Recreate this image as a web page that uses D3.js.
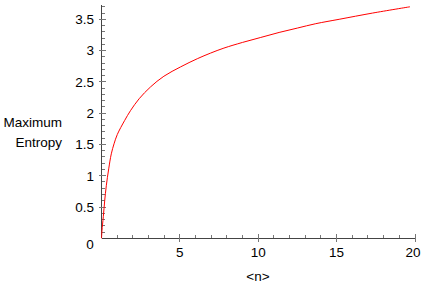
<!DOCTYPE html>
<html>
<head>
<meta charset="utf-8">
<script src="https://cdn.jsdelivr.net/npm/d3@7"></script>
<style>
  html, body { margin: 0; padding: 0; background: #fff; }
  svg { display: block; }
  text { font-family: "Liberation Sans", Arial, Helvetica, sans-serif; fill: #000; }
</style>
</head>
<body>
<svg id="chart" width="421" height="284"></svg>
<script>
// Data
const nValues = [0, 0.03, 0.115, 0.204, 0.306, 0.46, 0.625, 0.8, 1.01, 1.47, 1.85, 2.4, 3.13, 3.98, 5.05, 6.11, 6.96, 7.81, 8.99, 10.16, 11.33, 12.5, 13.67, 15.16, 17.3, 19.68];
const entropyValues = [0, 0.12, 0.345, 0.60, 0.84, 1.11, 1.35, 1.51, 1.66, 1.88, 2.04, 2.23, 2.42, 2.59, 2.74, 2.87, 2.96, 3.04, 3.13, 3.21, 3.29, 3.36, 3.43, 3.50, 3.60, 3.70];
const xTickValues = [5, 10, 15, 20];
const yTickValues = [0.5, 1, 1.5, 2, 2.5, 3, 3.5];
const xLabel = "<n>";
const yLabelLines = ["Maximum", "Entropy"];
const originLabel = "0";

const svg = d3.select("#chart");
const x = d3.scaleLinear().domain([0, 20]).range([101.5, 415]);
const y = d3.scaleLinear().domain([0, 3.5]).range([238.3, 19.3]);
const yTop = y.invert(5);

const axisColor = "#444";
const tickColor = "#777";

// y axis line
svg.append("line").attr("x1", x(0)).attr("x2", x(0)).attr("y1", y(0)).attr("y2", y(yTop))
  .attr("stroke", axisColor).attr("stroke-width", 1).attr("shape-rendering", "crispEdges");
// x axis line
svg.append("line").attr("x1", x(0)).attr("x2", x(20)).attr("y1", y(0)).attr("y2", y(0))
  .attr("stroke", axisColor).attr("stroke-width", 1).attr("shape-rendering", "crispEdges");

// minor ticks
const yMinor = d3.range(0.1, yTop, 0.1).filter(v => Math.abs(v * 2 - Math.round(v * 2)) > 1e-6);
svg.selectAll(".ymin").data(yMinor).enter().append("line")
  .attr("x1", x(0)).attr("x2", x(0) + 3).attr("y1", d => y(d)).attr("y2", d => y(d))
  .attr("stroke", tickColor).attr("shape-rendering", "crispEdges");
const xMinor = d3.range(1, 20, 1).filter(v => v % 5 !== 0);
svg.selectAll(".xmin").data(xMinor).enter().append("line")
  .attr("x1", d => x(d)).attr("x2", d => x(d)).attr("y1", y(0)).attr("y2", y(0) - 3)
  .attr("stroke", tickColor).attr("shape-rendering", "crispEdges");

// major ticks
svg.selectAll(".ymaj").data(yTickValues).enter().append("line")
  .attr("x1", x(0) - 3).attr("x2", x(0) + 4).attr("y1", d => y(d)).attr("y2", d => y(d))
  .attr("stroke", tickColor).attr("shape-rendering", "crispEdges");
svg.selectAll(".xmaj").data(xTickValues).enter().append("line")
  .attr("x1", d => x(d)).attr("x2", d => x(d)).attr("y1", y(0) - 4).attr("y2", y(0) + 4)
  .attr("stroke", tickColor).attr("shape-rendering", "crispEdges");

// tick labels
svg.selectAll(".ylab").data(yTickValues).enter().append("text")
  .attr("x", 94).attr("y", d => y(d)).attr("dy", "0.36em")
  .attr("text-anchor", "end").attr("font-size", 13.5).text(d => d3.format("")(d));
svg.selectAll(".xlab").data(xTickValues).enter().append("text")
  .attr("x", d => d === 20 ? x(d) - 2 : x(d)).attr("y", 257)
  .attr("text-anchor", "middle").attr("font-size", 13.5).text(d => d);
svg.append("text").attr("x", 90).attr("y", 249).attr("text-anchor", "middle")
  .attr("font-size", 13.5).text(originLabel);

// axis titles
svg.append("text").attr("x", 258).attr("y", 281).attr("text-anchor", "middle")
  .attr("font-size", 13.5).text(xLabel);
svg.selectAll(".ytitle").data(yLabelLines).enter().append("text")
  .attr("x", 62).attr("y", (d, i) => 127 + i * 19.5).attr("text-anchor", "end")
  .attr("font-size", 13.5).text(d => d);

// curve
const pts = nValues.map((n, i) => [n, entropyValues[i]]);
const line = d3.line().x(d => x(d[0])).y(d => y(d[1])).curve(d3.curveCatmullRom.alpha(0.5));
svg.append("path").datum(pts).attr("d", line)
  .attr("fill", "none").attr("stroke", "#ff0000").attr("stroke-width", 1);
</script>
</body>
</html>
